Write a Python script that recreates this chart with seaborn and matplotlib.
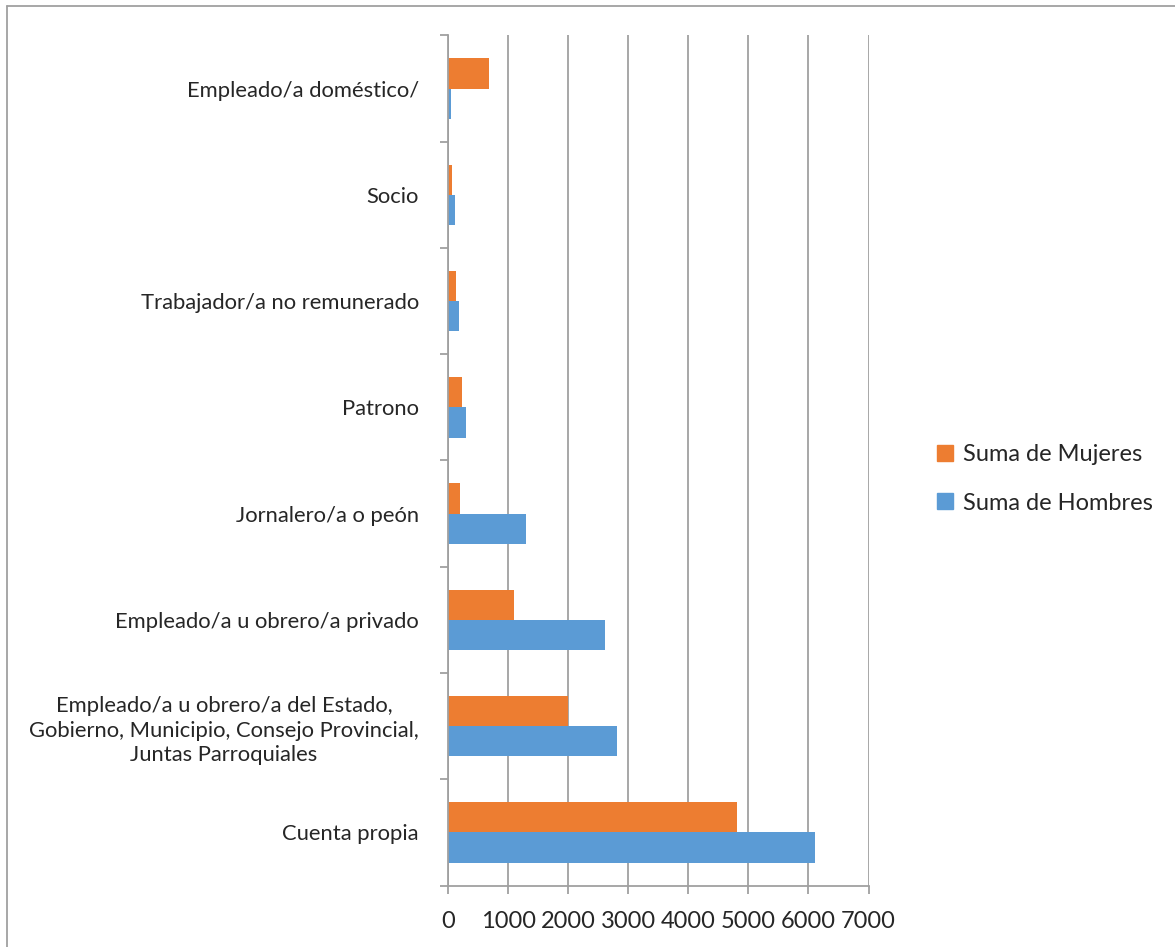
import seaborn as sns
import numpy as np
import pandas as pd
import matplotlib.pyplot as plt
from matplotlib.lines import Line2D

categorias = [
    "Empleado/a doméstico/",
    "Socio",
    "Trabajador/a no remunerado",
    "Patrono",
    "Jornalero/a o peón",
    "Empleado/a u obrero/a privado",
    "Empleado/a u obrero/a del Estado,\nGobierno, Municipio, Consejo Provincial,\nJuntas Parroquiales",
    "Cuenta propia",
]
mujeres = [680, 72, 128, 228, 200, 1100, 1990, 4815]
hombres = [50, 111, 183, 306, 1300, 2610, 2805, 6110]
series = ["Suma de Mujeres", "Suma de Hombres"]
colores = ["#ED7D31", "#5B9BD5"]
xticks = [0, 1000, 2000, 3000, 4000, 5000, 6000, 7000]

df = pd.DataFrame({
    "cat": categorias * 2,
    "valor": mujeres + hombres,
    "serie": [series[0]] * len(categorias) + [series[1]] * len(categorias),
})

sns.set_style("white")
plt.rcParams['font.family'] = ['Lato', 'DejaVu Sans']

fig = plt.figure(figsize=(11.75, 9.47), dpi=100)
ax = fig.add_axes([448 / 1175, 1 - 885.5 / 947, 420.5 / 1175, (885.5 - 35.5) / 947])

sns.barplot(data=df, y="cat", x="valor", hue="serie", hue_order=series,
            palette=colores, orient="h", width=0.57, ax=ax, saturation=1,
            linewidth=0, legend=True)

ax.set_xlim(0, 7000)
ax.set_ylim(len(categorias) - 0.5, -0.5)
ax.set_xticks(xticks)
ax.set_xticklabels([str(v) for v in xticks], fontsize=17)
ax.set_xlabel("")
ax.set_ylabel("")
ax.grid(axis="x", color="#A0A0A0", linewidth=1.3)
ax.set_axisbelow(True)

# ticks on y at category boundaries
ax.set_yticks(np.arange(-0.5, len(categorias), 1), minor=True)
ax.tick_params(axis="y", which="minor", length=6, width=1.3, color="#A0A0A0", direction="out", left=True)
ax.tick_params(axis="y", which="major", length=0, pad=21, labelsize=15.8)
for t in ax.get_yticklabels():
    t.set_multialignment("center")
    t.set_linespacing(1.3)
ax.tick_params(axis="x", which="major", length=6, width=1.3, color="#A0A0A0", direction="out", bottom=True, pad=12)

for side in ["top", "right"]:
    ax.spines[side].set_visible(False)
for side in ["left", "bottom"]:
    ax.spines[side].set_color("#A0A0A0")
    ax.spines[side].set_linewidth(1.3)

handles = [plt.Rectangle((0, 0), 1, 1, color=c) for c in colores]
ax.legend(handles, series, loc="center left", bbox_to_anchor=(916 / 1175, 1 - 479 / 947),
          bbox_transform=fig.transFigure, frameon=False, fontsize=17,
          handlelength=0.65, handleheight=0.65, handletextpad=0.45, labelspacing=1.15)

# chart border
fig.add_artist(Line2D([6.5 / 1175, 6.5 / 1175], [0, 1 - 6.5 / 947], transform=fig.transFigure,
                      color="#A0A0A0", linewidth=1.3))
fig.add_artist(Line2D([6.5 / 1175, 1], [1 - 6.5 / 947, 1 - 6.5 / 947], transform=fig.transFigure,
                      color="#A0A0A0", linewidth=1.3))

fig.savefig("out.png", dpi=100)
